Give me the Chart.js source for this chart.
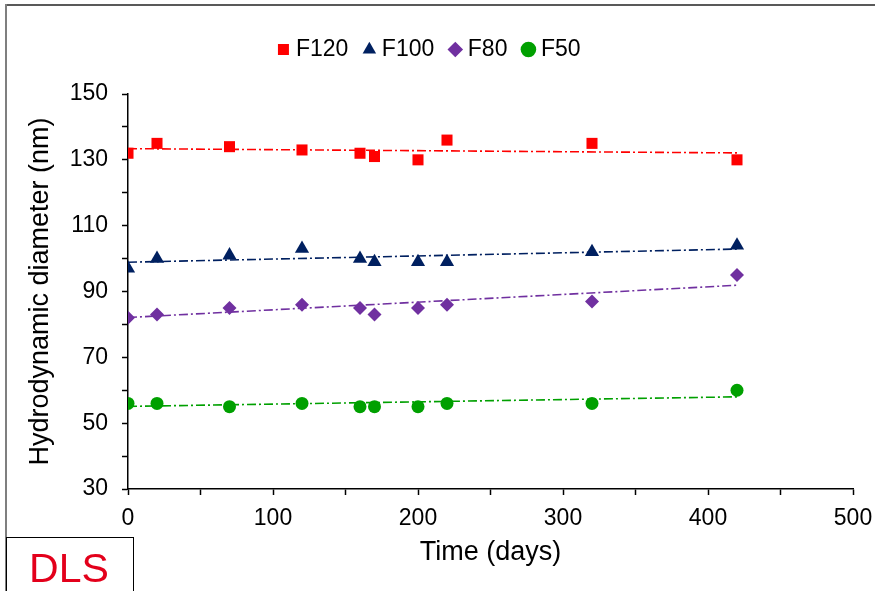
<!DOCTYPE html>
<html><head><meta charset="utf-8">
<script src="https://cdn.jsdelivr.net/npm/chart.js@4.4.1/dist/chart.umd.min.js"></script>
<style>html,body{margin:0;padding:0;background:#fff;}#wrap{position:relative;width:875px;height:591px;}</style>
</head><body><div id="wrap"><canvas id="c" width="875" height="591"></canvas></div>
<script>
// ---- data ----
const days = [0, 20, 70, 120, 160, 170, 200, 220, 320, 420];
const f120 = [132, 135, 134, 133, 132, 131, 130, 136, 135, 130];
const f100 = [97, 100, 101, 103, 100, 99, 99, 99, 102, 104];
const f80  = [82, 83, 85, 86, 85, 83, 85, 86, 87, 95];
const f50  = [56, 56, 55, 56, 55, 55, 55, 56, 56, 60];
const seriesNames = ['F120', 'F100', 'F80', 'F50'];
// linear trend lines (end values)
const trendDays = [0, 420];
const trendF120 = [133.4, 132.1];
const trendF100 = [98.9, 102.9];
const trendF80  = [82.1, 91.9];
const trendF50  = [55.1, 58.0];
// labelled ticks
const yTickLabels = [30, 50, 70, 90, 110, 130, 150];
const xTickLabels = [0, 100, 200, 300, 400, 500];

const FONT = "'Liberation Sans', Arial, sans-serif";
const colors = ['#FF0000', '#002060', '#7030A0', '#00A000'];
const styles = ['rect', 'triangle', 'rectRot', 'circle'];
const radii = [7.8, 8.2, 7, 6.5];
const values = [f120, f100, f80, f50];
const trends = [trendF120, trendF100, trendF80, trendF50];

const pts = (xs, ys) => xs.map((x, i) => ({x: x, y: ys[i]}));

const datasets = [];
seriesNames.forEach((n, i) => {
  datasets.push({
    label: n, data: pts(days, values[i]), showLine: false,
    pointStyle: styles[i], pointRadius: radii[i], pointHoverRadius: radii[i],
    backgroundColor: colors[i], borderColor: colors[i], borderWidth: 0
  });
});
seriesNames.forEach((n, i) => {
  datasets.push({
    label: '', data: pts(trendDays, trends[i]), showLine: true,
    pointRadius: 0, borderColor: colors[i], backgroundColor: colors[i],
    borderWidth: 1.6, borderDash: [9, 3, 2, 3]
  });
});

const framePlugin = {
  id: 'frame',
  beforeDraw(chart) {
    const ctx = chart.ctx;
    ctx.save();
    ctx.fillStyle = '#fff';
    ctx.fillRect(0, 0, chart.width, chart.height);
    ctx.restore();
  },
  afterDraw(chart) {
    const ctx = chart.ctx;
    ctx.save();
    ctx.fillStyle = '#595959';
    ctx.fillRect(5, 4, chart.width - 5, 2);
    ctx.fillStyle = '#7f7f7f';
    ctx.fillRect(5, 4, 2, chart.height - 4);
    // DLS label box
    ctx.fillStyle = '#fff';
    ctx.fillRect(7, 538, 126, 60);
    ctx.strokeStyle = '#000';
    ctx.lineWidth = 1;
    ctx.strokeRect(6.5, 537.5, 127, 60);
    ctx.fillStyle = '#E3001B';
    ctx.font = '41px ' + FONT;
    ctx.textAlign = 'center';
    ctx.textBaseline = 'alphabetic';
    ctx.fillText('DLS', 69, 582);
    ctx.restore();
  }
};

new Chart(document.getElementById('c'), {
  type: 'scatter',
  data: { datasets: datasets },
  plugins: [framePlugin],
  options: {
    responsive: false, animation: false, devicePixelRatio: 1,
    layout: { padding: { left: 10, right: 22, top: 18, bottom: 0 } },
    plugins: {
      tooltip: { enabled: false },
      legend: {
        position: 'top',
        labels: {
          usePointStyle: true, boxWidth: 2, boxHeight: 11, padding: 20,
          color: '#000', font: { family: FONT, size: 23 },
          filter: item => seriesNames.includes(item.text)
        }
      }
    },
    scales: {
      x: {
        type: 'linear', position: 'bottom', min: 0, max: 500,
        afterFit: s => { s.height = 102; s.paddingLeft = 0; s.paddingRight = 0; },
        border: { display: true, color: '#000', width: 1.5 },
        grid: { drawOnChartArea: false, drawTicks: true, tickLength: 6, tickColor: '#000', tickWidth: 1.5 },
        ticks: { stepSize: 50, autoSkip: false, maxRotation: 0, padding: 10, color: '#000', font: { family: FONT, size: 23 },
          callback: v => xTickLabels.includes(v) ? String(v) : '' },
        title: { display: true, text: 'Time (days)', color: '#000', font: { family: FONT, size: 27 }, padding: { top: 0, bottom: 22 } }
      },
      xTop: {
        type: 'linear', position: 'top', display: true,
        afterFit: s => { s.height = 23; },
        border: { display: false }, grid: { display: false, drawTicks: false }, ticks: { display: false }
      },
      y: {
        type: 'linear', min: 30, max: 150,
        afterFit: s => { s.width = 118; },
        border: { display: true, color: '#000', width: 1.5 },
        grid: { drawOnChartArea: false, drawTicks: true, tickLength: 6, tickColor: '#000', tickWidth: 1.5 },
        ticks: { stepSize: 10, autoSkip: false, padding: 14, color: '#000', font: { family: FONT, size: 23 },
          callback: v => yTickLabels.includes(v) ? String(v) : '' },
        title: { display: true, text: 'Hydrodynamic diameter (nm)', color: '#000', font: { family: FONT, size: 27 }, padding: { top: 14, bottom: 0 } }
      }
    }
  }
});
</script>
</body></html>
